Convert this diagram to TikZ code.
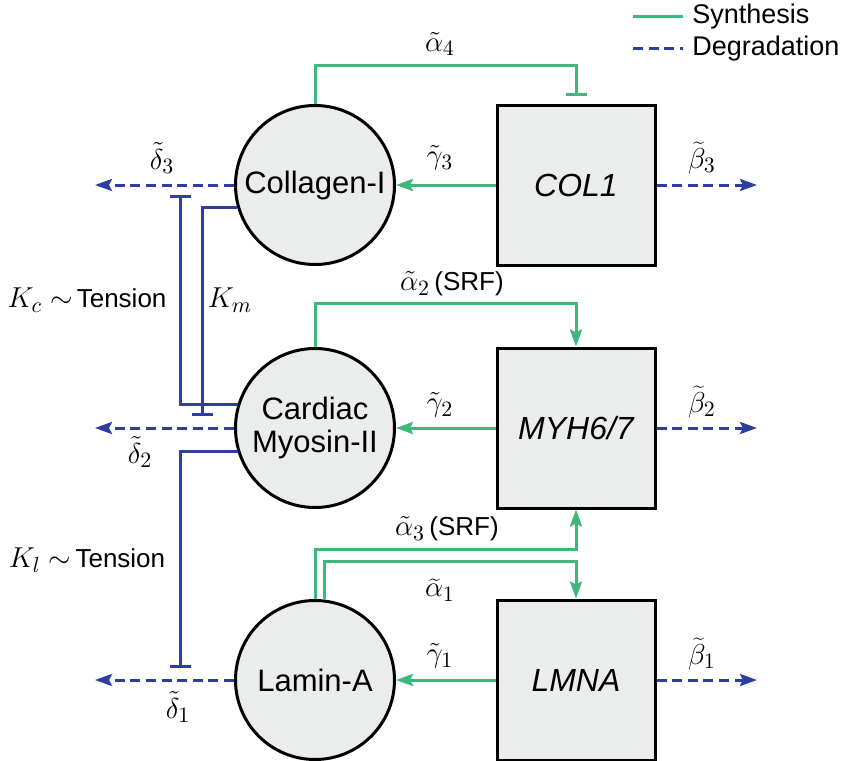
\documentclass[tikz,border=0pt]{standalone}
\usepackage{fontspec}
\setmainfont{Liberation Sans}
\usetikzlibrary{arrows.meta}
\definecolor{syng}{RGB}{60,184,120}
\definecolor{degb}{RGB}{46,62,160}
\definecolor{nodefill}{RGB}{235,237,237}
\newcommand{\mlab}[1]{{\fontsize{15.5}{17}\selectfont$#1$}}
\begin{document}
\begin{tikzpicture}[x=0.5pt,y=-0.5pt,
  mol/.style={circle, draw=black, line width=1.5pt, fill=nodefill, minimum size=79.5pt, inner sep=0pt, align=center, font=\fontsize{15.5}{16.5}\selectfont},
  gene/.style={rectangle, draw=black, line width=1.5pt, fill=nodefill, minimum width=79pt, minimum height=80pt, inner sep=0pt, font=\fontsize{16}{19}\selectfont\itshape},
  syn/.style={draw=syng, line width=1.5pt, -{Stealth[length=8.5pt,width=6pt,inset=1.5pt]}},
  synbar/.style={draw=syng, line width=1.5pt, -{Bar[width=10.5pt]}},
  deg/.style={draw=degb, line width=1.5pt, dash pattern=on 5pt off 2.8pt, -{Stealth[length=8.5pt,width=6pt,inset=1.5pt]}},
  tens/.style={draw=degb, line width=1.5pt, -{Bar[width=10.5pt]}},
  lab/.style={font=\fontsize{13}{15}\selectfont, inner sep=0pt},
  leg/.style={font=\fontsize{13.5}{15}\selectfont, inner sep=0pt, anchor=west}
]
\useasboundingbox (0,0) rectangle (848,761);

% molecules
\node[mol] (coll) at (315,185) {Collagen-I};
\node[mol] (card) at (315,428) {Cardiac\\Myosin-II};
\node[mol] (lamin) at (315,680) {Lamin-A};

% genes
\node[gene] (col1) at (576,185) {COL1};
\node[gene] (myh) at (576,428) {MYH6/7};
\node[gene] (lmna) at (576,680) {LMNA};

% free ends
\coordinate (d3) at (95,185);
\coordinate (d2) at (95,428);
\coordinate (d1) at (95,680);
\coordinate (b3) at (757,185);
\coordinate (b2) at (757,428);
\coordinate (b1) at (757,680);
\coordinate (kc) at (180,195);
\coordinate (km) at (202,416);
\coordinate (kl) at (180,668);

% translation
\draw[syn] (col1.west) -- (coll.east);
\draw[syn] (myh.west) -- (card.east);
\draw[syn] (lmna.west) -- (lamin.east);

% degradation
\draw[deg] (coll.west) -- (d3);
\draw[deg] (card.west) -- (d2);
\draw[deg] (lamin.west) -- (d1);
\draw[deg] (col1.east) -- (b3);
\draw[deg] (myh.east) -- (b2);
\draw[deg] (lmna.east) -- (b1);

% transcription feedback
\draw[synbar, shorten >=4pt] (coll.north) -- ++(0,-39) -| (col1.north);
\draw[syn] (card.north) -- ++(0,-44) -| (myh.north);
\draw[syn] (lamin.north) -- ++(0,-50) -| (myh.south);
\draw[syn] (lamin.83) -- ++(0,-38) -| (lmna.north);

% tension
\draw[tens] (card.163) -| (kc);
\draw[tens] (coll.196) -| (km);
\draw[tens] (card.197) -| (kl);

% labels
\node[lab] at (440,44) {\mlab{\tilde{\alpha}_4}};
\node[lab] at (440,158) {\mlab{\tilde{\gamma}_3}};
\node[lab] at (162,158) {\mlab{\tilde{\delta}_3}};
\node[lab] at (702,158) {\mlab{\widetilde{\beta}_3}};
\node[lab] at (452,284) {\mlab{\tilde{\alpha}_2}\,(SRF)};
\node[lab] at (87,300) {\mlab{K_c\sim}\,Tension};
\node[lab] at (230,300) {\mlab{K_m}};
\node[lab] at (440,405) {\mlab{\tilde{\gamma}_2}};
\node[lab] at (140,452) {\mlab{\tilde{\delta}_2}};
\node[lab] at (702,402) {\mlab{\widetilde{\beta}_2}};
\node[lab] at (447,529) {\mlab{\tilde{\alpha}_3}\,(SRF)};
\node[lab] at (87,560) {\mlab{K_l\sim}\,Tension};
\node[lab] at (440,590) {\mlab{\widetilde{\alpha}_1}};
\node[lab] at (440,656) {\mlab{\tilde{\gamma}_1}};
\node[lab] at (702,654) {\mlab{\widetilde{\beta}_1}};
\node[lab] at (178,707) {\mlab{\tilde{\delta}_1}};

% legend
\coordinate (ls1) at (633,16);
\coordinate (le1) at (683,16);
\coordinate (ls2) at (633,48);
\coordinate (le2) at (683,48);
\draw[draw=syng, line width=1.5pt] (ls1) -- (le1);
\draw[draw=degb, line width=1.5pt, dash pattern=on 5pt off 2.8pt] (ls2) -- (le2);
\node[leg] at (692,17) {Synthesis};
\node[leg] at (692,49) {Degradation};
\end{tikzpicture}
\end{document}
